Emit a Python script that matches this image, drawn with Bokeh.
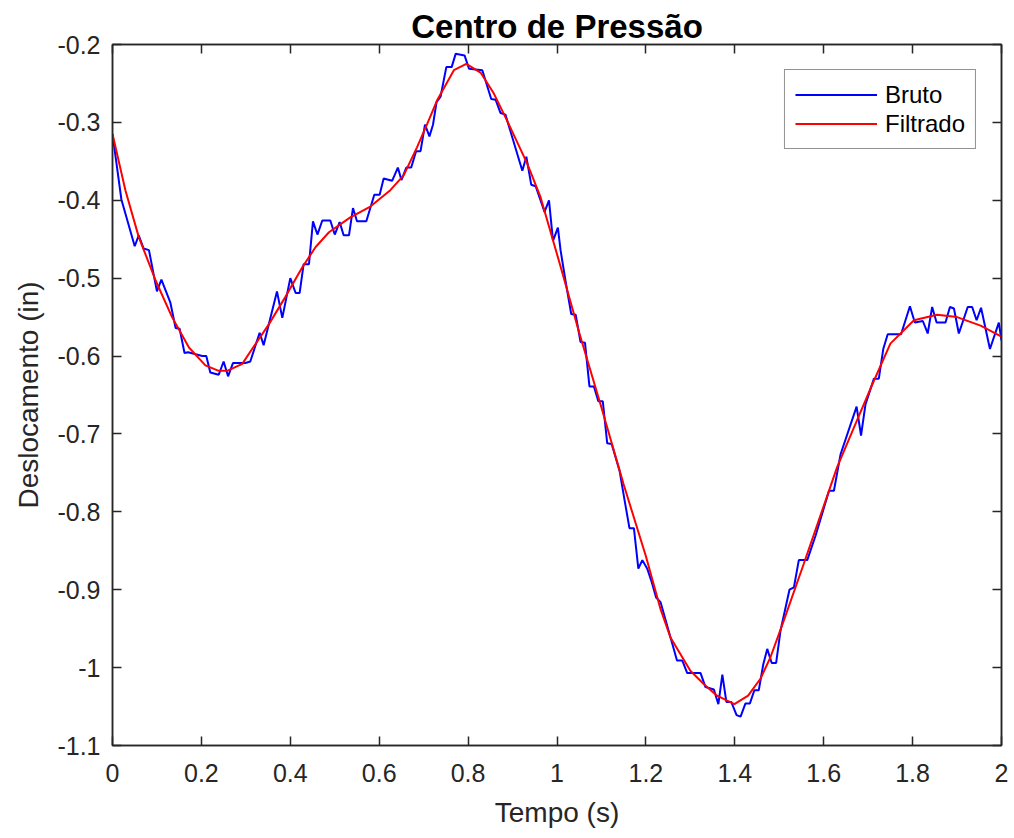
from bokeh.plotting import figure
from bokeh.models import Range1d, FixedTicker, LinearAxis, Legend, LegendItem
from bokeh.embed import file_html
from bokeh.resources import INLINE

# ---- data ----
t_raw = [0.000, 0.020, 0.050, 0.059, 0.070, 0.082, 0.100, 0.110, 0.130, 0.142,
         0.151, 0.162, 0.170, 0.183, 0.202, 0.211, 0.220, 0.239, 0.250, 0.260,
         0.271, 0.299, 0.310, 0.331, 0.340, 0.370, 0.382, 0.400, 0.412, 0.421,
         0.430, 0.442, 0.451, 0.461, 0.472, 0.490, 0.500, 0.511, 0.520, 0.532,
         0.541, 0.550, 0.571, 0.589, 0.601, 0.610, 0.629, 0.642, 0.650, 0.661,
         0.672, 0.683, 0.693, 0.703, 0.713, 0.721, 0.729, 0.738, 0.751, 0.763,
         0.772, 0.792, 0.802, 0.832, 0.852, 0.862, 0.873, 0.884, 0.922, 0.931,
         0.942, 0.952, 0.972, 0.982, 0.991, 1.002, 1.008, 1.019, 1.032, 1.042,
         1.053, 1.063, 1.073, 1.083, 1.093, 1.103, 1.113, 1.123, 1.141, 1.152,
         1.163, 1.173, 1.183, 1.192, 1.203, 1.213, 1.223, 1.233, 1.270, 1.282,
         1.293, 1.323, 1.334, 1.353, 1.363, 1.372, 1.381, 1.392, 1.404, 1.413,
         1.424, 1.434, 1.444, 1.454, 1.464, 1.473, 1.483, 1.493, 1.503, 1.523,
         1.533, 1.544, 1.563, 1.582, 1.612, 1.623, 1.638, 1.674, 1.684, 1.694,
         1.713, 1.724, 1.734, 1.744, 1.774, 1.794, 1.805, 1.823, 1.834, 1.844,
         1.854, 1.874, 1.884, 1.893, 1.904, 1.924, 1.934, 1.944, 1.954, 1.974,
         1.994, 2.000]
v_raw = [-0.315, -0.399, -0.459, -0.445, -0.462, -0.464, -0.517, -0.502, -0.531, -0.564,
         -0.565, -0.596, -0.595, -0.597, -0.600, -0.600, -0.621, -0.624, -0.607, -0.626,
         -0.609, -0.609, -0.607, -0.570, -0.586, -0.517, -0.551, -0.500, -0.519, -0.519,
         -0.482, -0.482, -0.427, -0.444, -0.426, -0.426, -0.444, -0.428, -0.445, -0.445,
         -0.410, -0.427, -0.427, -0.393, -0.393, -0.372, -0.375, -0.358, -0.374, -0.358,
         -0.358, -0.337, -0.337, -0.303, -0.318, -0.303, -0.274, -0.267, -0.229, -0.229,
         -0.212, -0.214, -0.231, -0.233, -0.270, -0.271, -0.288, -0.290, -0.362, -0.344,
         -0.380, -0.382, -0.415, -0.400, -0.452, -0.435, -0.464, -0.503, -0.546, -0.547,
         -0.582, -0.583, -0.639, -0.639, -0.658, -0.658, -0.712, -0.713, -0.748, -0.785,
         -0.821, -0.821, -0.873, -0.862, -0.873, -0.890, -0.910, -0.916, -0.991, -0.991,
         -1.007, -1.007, -1.025, -1.028, -1.047, -1.009, -1.044, -1.044, -1.061, -1.063,
         -1.046, -1.046, -1.029, -1.029, -0.996, -0.976, -0.994, -0.994, -0.952, -0.900,
         -0.897, -0.862, -0.862, -0.830, -0.773, -0.773, -0.726, -0.665, -0.702, -0.662,
         -0.629, -0.629, -0.591, -0.572, -0.572, -0.536, -0.557, -0.555, -0.571, -0.537,
         -0.557, -0.557, -0.537, -0.539, -0.571, -0.537, -0.537, -0.554, -0.538, -0.591,
         -0.557, -0.580]

t_filt = [0.000, 0.029, 0.059, 0.097, 0.134, 0.172, 0.209, 0.239, 0.258, 0.292,
          0.314, 0.352, 0.389, 0.427, 0.457, 0.487, 0.535, 0.580, 0.625, 0.655,
          0.685, 0.708, 0.730, 0.768, 0.796, 0.828, 0.858, 0.888, 0.933, 0.963,
          1.008, 1.050, 1.100, 1.150, 1.200, 1.233, 1.255, 1.300, 1.330, 1.360,
          1.399, 1.430, 1.458, 1.480, 1.510, 1.555, 1.630, 1.705, 1.750, 1.803,
          1.855, 1.900, 1.953, 2.000]
v_filt = [-0.315, -0.387, -0.447, -0.503, -0.550, -0.589, -0.612, -0.619, -0.619, -0.610,
          -0.591, -0.559, -0.524, -0.486, -0.460, -0.441, -0.422, -0.408, -0.387, -0.368,
          -0.332, -0.302, -0.272, -0.233, -0.225, -0.236, -0.263, -0.298, -0.353, -0.396,
          -0.485, -0.570, -0.666, -0.765, -0.857, -0.925, -0.961, -1.004, -1.021, -1.036,
          -1.047, -1.036, -1.014, -0.987, -0.940, -0.867, -0.743, -0.642, -0.584, -0.554,
          -0.547, -0.550, -0.561, -0.575]

x_ticks = [0, 0.2, 0.4, 0.6, 0.8, 1.0, 1.2, 1.4, 1.6, 1.8, 2.0]
x_tick_labels = ["0", "0.2", "0.4", "0.6", "0.8", "1", "1.2", "1.4", "1.6", "1.8", "2"]
y_ticks = [-1.1, -1.0, -0.9, -0.8, -0.7, -0.6, -0.5, -0.4, -0.3, -0.2]
y_tick_labels = ["-1.1", "-1", "-0.9", "-0.8", "-0.7", "-0.6", "-0.5", "-0.4", "-0.3", "-0.2"]

title_text = "Centro de Pressão"
x_label = "Tempo (s)"
y_label = "Deslocamento (in)"
series_names = ["Bruto", "Filtrado"]

FONT = "Liberation Sans"
AX = "#262626"

p = figure(width=1010, height=836, x_range=Range1d(0, 2), y_range=Range1d(-1.1, -0.2),
           output_backend="svg", toolbar_location=None,
           min_border_left=112, min_border_right=9, min_border_top=44, min_border_bottom=91,
           x_axis_label=x_label, y_axis_label=y_label, title=title_text)
p.grid.visible = False
p.outline_line_color = AX
p.outline_line_width = 1.5
p.background_fill_color = "white"
p.border_fill_color = "white"

p.title.align = "center"
p.title.text_font = FONT
p.title.text_font_size = "33px"
p.title.text_font_style = "bold"
p.title.text_color = "#000000"
p.title.standoff = 0

xb = p.below[0]
yl = p.left[0]

xt = FixedTicker(ticks=x_ticks)
yt = FixedTicker(ticks=y_ticks)
xb.ticker = xt
yl.ticker = yt
xb.major_label_overrides = {t: l for t, l in zip(x_ticks, x_tick_labels)}
yl.major_label_overrides = {t: l for t, l in zip(y_ticks, y_tick_labels)}

top_ax = LinearAxis(ticker=xt)
right_ax = LinearAxis(ticker=yt)
p.add_layout(top_ax, "above")
p.add_layout(right_ax, "right")

for ax in [xb, yl, top_ax, right_ax]:
    ax.axis_line_color = AX
    ax.axis_line_width = 1.5
    ax.major_tick_line_color = AX
    ax.major_tick_line_width = 1.5
    ax.major_tick_in = 9
    ax.major_tick_out = 0
    ax.minor_tick_line_color = None
    ax.major_label_text_font = FONT
    ax.major_label_text_font_size = "25px"
    ax.major_label_text_color = AX
    ax.axis_label_text_font = FONT
    ax.axis_label_text_font_size = "28px"
    ax.axis_label_text_font_style = "normal"
    ax.axis_label_text_color = AX

for ax in [top_ax, right_ax]:
    ax.major_label_text_font_size = "1px"
    ax.major_label_text_color = None
    ax.major_label_standoff = 0

xb.major_label_standoff = 18
yl.major_label_standoff = 12
xb.axis_label_standoff = 12
yl.axis_label_standoff = 10

r1 = p.line(t_raw, v_raw, line_color="#0000FF", line_width=2)
r2 = p.line(t_filt, v_filt, line_color="#FF0000", line_width=2)

legend = Legend(items=[LegendItem(label=series_names[0], renderers=[r1]),
                       LegendItem(label=series_names[1], renderers=[r2])],
                location="top_right")
legend.margin = 25
legend.padding = 10
legend.spacing = 0
legend.glyph_width = 82
legend.glyph_height = 29
legend.label_height = 29
legend.label_standoff = 8
legend.label_text_font = FONT
legend.label_text_font_size = "24px"
legend.label_text_color = "#000000"
legend.border_line_color = AX
legend.border_line_width = 1.5
legend.background_fill_alpha = 1.0
p.add_layout(legend, "center")

open("out.html", "w").write(file_html(p, INLINE))
